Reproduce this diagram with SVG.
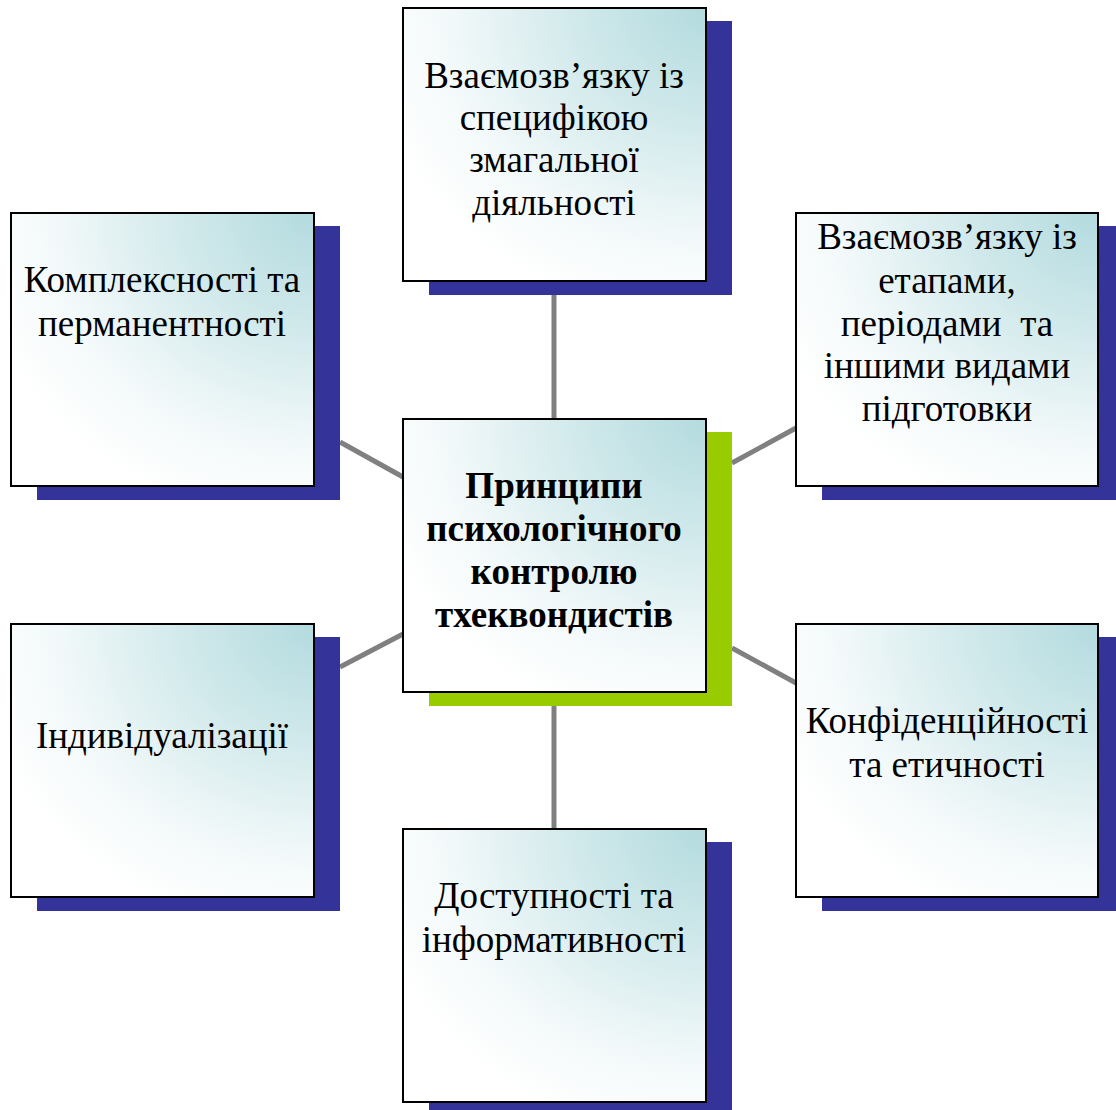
<svg xmlns="http://www.w3.org/2000/svg" width="1116" height="1110" viewBox="0 0 1116 1110">
<defs>
<radialGradient id="g" cx="1" cy="0" r="1.15" fx="1" fy="0">
<stop offset="0" stop-color="#b3dbdf"/>
<stop offset="0.35" stop-color="#cfe8ea"/>
<stop offset="0.75" stop-color="#f3f9fa"/>
<stop offset="1" stop-color="#ffffff"/>
</radialGradient>
</defs>
<style>
.box{fill:url(#g);stroke:#000;stroke-width:2}
.sh{fill:#333399}
.shg{fill:#99cc00}
.t{font-family:"Liberation Serif","Times New Roman",serif;font-size:37px;fill:#000;text-anchor:middle;white-space:pre}
.b{font-weight:bold}
.c{stroke:#808080;stroke-width:5;fill:none}
</style>
<rect width="1116" height="1110" fill="#fff"/>
<g id="connectors">
<line class="c" x1="554" y1="295" x2="554" y2="419"/>
<line class="c" x1="554" y1="706" x2="554" y2="829"/>
<line class="c" x1="340" y1="442" x2="403" y2="477"/>
<line class="c" x1="340" y1="667" x2="403" y2="634"/>
<line class="c" x1="732" y1="463" x2="796" y2="428"/>
<line class="c" x1="732" y1="648" x2="796" y2="683"/>
</g>
<g id="n-top">
<rect class="sh" x="429" y="21" width="303" height="274"/>
<rect class="box" x="403" y="8" width="303" height="273"/>
<text class="t" x="554"><tspan x="554" y="88">Взаємозв’язку із</tspan><tspan x="554" y="130">специфікою</tspan><tspan x="554" y="172">змагальної</tspan><tspan x="554" y="215">діяльності</tspan></text>
</g>
<g id="n-lt">
<rect class="sh" x="37" y="226" width="303" height="274"/>
<rect class="box" x="11" y="213" width="303" height="273"/>
<text class="t"><tspan x="162" y="292">Комплексності та</tspan><tspan x="162" y="336">перманентності</tspan></text>
</g>
<g id="n-rt">
<rect class="sh" x="822" y="226" width="303" height="274"/>
<rect class="box" x="796" y="213" width="302" height="273"/>
<text class="t" xml:space="preserve"><tspan x="947" y="249">Взаємозв’язку із</tspan><tspan x="947" y="293">етапами,</tspan><tspan x="947" y="336">періодами  та</tspan><tspan x="947" y="378">іншими видами</tspan><tspan x="947" y="421">підготовки</tspan></text>
</g>
<g id="n-center">
<rect class="shg" x="429" y="432" width="303" height="274"/>
<rect class="box" x="403" y="419" width="303" height="273"/>
<text class="t b"><tspan x="554" y="498">Принципи</tspan><tspan x="554" y="541">психологічного</tspan><tspan x="554" y="584">контролю</tspan><tspan x="554" y="627">тхеквондистів</tspan></text>
</g>
<g id="n-lb">
<rect class="sh" x="37" y="637" width="303" height="274"/>
<rect class="box" x="11" y="624" width="303" height="273"/>
<text class="t"><tspan x="162" y="748">Індивідуалізації</tspan></text>
</g>
<g id="n-rb">
<rect class="sh" x="822" y="637" width="303" height="274"/>
<rect class="box" x="796" y="624" width="302" height="273"/>
<text class="t"><tspan x="947" y="733">Конфіденційності</tspan><tspan x="947" y="777">та етичності</tspan></text>
</g>
<g id="n-bottom">
<rect class="sh" x="429" y="842" width="303" height="274"/>
<rect class="box" x="403" y="829" width="303" height="273"/>
<text class="t"><tspan x="554" y="908">Доступності та</tspan><tspan x="554" y="952">інформативності</tspan></text>
</g>
</svg>
